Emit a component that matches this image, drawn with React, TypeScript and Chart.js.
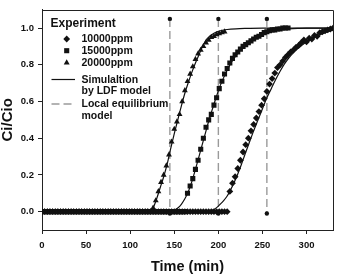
import { useEffect, useRef } from 'react';
import { Chart, registerables } from 'chart.js';
import { drawPoint } from 'chart.js/helpers';

Chart.register(...registerables);

// Sampling instants of the breakthrough measurements (min)
const sampleTimes = [
  0, 3, 6, 9, 12, 15, 18, 21, 24, 27, 30, 33, 36, 39, 42, 45, 48, 51, 54, 57,
  60, 63, 66, 69, 72, 75, 78, 81, 84, 87, 90, 93, 96, 99, 102, 105, 108, 111, 114, 117,
  120, 123, 126, 129, 132, 135, 138, 141, 144, 147, 150, 153, 156, 159, 162, 165, 168, 171, 174, 177,
  180, 183, 186, 189, 192, 195, 198, 201, 204, 207, 210, 213, 216, 219, 222, 225, 228, 231, 234, 237,
  240, 243, 246, 249, 252, 255, 258, 261, 264, 267, 270, 273, 276, 279, 282, 285, 288, 291, 294, 297,
  300, 303, 306, 309, 312, 315, 318, 321, 324, 327, 330,
];

// Measured Ci/Cio, 10000 ppm feed
const exp10000 = [
  0, 0, 0, 0, 0, 0, 0, 0, 0, 0, 0, 0, 0, 0, 0, 0, 0, 0, 0, 0,
  0, 0, 0, 0, 0, 0, 0, 0, 0, 0, 0, 0, 0, 0, 0, 0, 0, 0, 0, 0,
  0, 0, 0, 0, 0, 0, 0, 0, 0, 0, 0, 0, 0, 0, 0, 0, 0, 0, 0, 0,
  0, 0, 0, 0, 0, 0, 0, 0, 0, 0, 0,
  0.11, 0.155, 0.19, 0.235, 0.28, 0.325, 0.365, 0.4, 0.44, 0.475,
  0.51, 0.545, 0.58, 0.615, 0.655, 0.695, 0.725, 0.755, 0.785, 0.8,
  0.82, 0.84, 0.855, 0.87, 0.88, 0.895, 0.905, 0.92, 0.935, 0.925,
  0.945, 0.94, 0.96, 0.955, 0.975, 0.98, 0.985, 0.99, 0.995, 1.0,
];

// Measured Ci/Cio, 15000 ppm feed
const exp15000 = [
  0, 0, 0, 0, 0, 0, 0, 0, 0, 0, 0, 0, 0, 0, 0, 0, 0, 0, 0, 0,
  0, 0, 0, 0, 0, 0, 0, 0, 0, 0, 0, 0, 0, 0, 0, 0, 0, 0, 0, 0,
  0, 0, 0, 0, 0, 0, 0, 0, 0, 0, 0, 0, 0, 0, 0,
  0.1, 0.14, 0.18, 0.23, 0.28, 0.34, 0.4, 0.46, 0.5, 0.53,
  0.58, 0.62, 0.67, 0.71, 0.75, 0.78, 0.81, 0.835, 0.855, 0.87,
  0.885, 0.9, 0.91, 0.92, 0.93, 0.94, 0.95, 0.955, 0.965, 0.975,
  0.98, 0.985, 0.99, 0.99, 0.995, 0.995, 1.0, 1.0, 1.0,
];

// Measured Ci/Cio, 20000 ppm feed
const exp20000 = [
  0, 0, 0, 0, 0, 0, 0, 0, 0, 0, 0, 0, 0, 0, 0, 0, 0, 0, 0, 0,
  0, 0, 0, 0, 0, 0, 0, 0, 0, 0, 0, 0, 0, 0, 0, 0, 0, 0, 0, 0,
  0, 0,
  0.02, 0.06, 0.11, 0.16, 0.2, 0.25, 0.31, 0.38, 0.45, 0.49,
  0.53, 0.6, 0.66, 0.71, 0.75, 0.79, 0.83, 0.86, 0.88, 0.9,
  0.92, 0.935, 0.95, 0.955, 0.965, 0.97, 0.975, 0.98,
];

// LDF model curves
const ldf10000Times = [0, 186, 190, 194, 198, 202, 206, 210, 214, 218, 222, 226, 230, 235, 240, 245, 250, 255, 260, 265, 270, 275, 280, 285, 290, 295, 300, 310, 320, 330];
const ldf10000 = [0, 0, 0.003, 0.01, 0.022, 0.04, 0.06, 0.085, 0.12, 0.16, 0.205, 0.255, 0.31, 0.375, 0.44, 0.5, 0.56, 0.62, 0.67, 0.72, 0.765, 0.805, 0.838, 0.865, 0.888, 0.907, 0.924, 0.952, 0.973, 0.99];

const ldf15000Times = [0, 146, 150, 154, 158, 162, 166, 170, 174, 178, 182, 186, 190, 194, 198, 202, 206, 210, 215, 220, 225, 230, 240, 250, 260, 270, 280, 290, 300, 330];
const ldf15000 = [0, 0, 0.008, 0.02, 0.04, 0.07, 0.11, 0.165, 0.23, 0.3, 0.37, 0.44, 0.51, 0.57, 0.63, 0.685, 0.73, 0.77, 0.815, 0.85, 0.88, 0.905, 0.94, 0.965, 0.98, 0.99, 0.995, 0.998, 1.0, 1.0];

const ldf20000Times = [0, 122, 126, 130, 134, 138, 142, 146, 150, 154, 158, 162, 166, 170, 174, 178, 182, 186, 190, 195, 200, 205, 210, 220, 230, 250, 330];
const ldf20000 = [0, 0, 0.02, 0.07, 0.13, 0.19, 0.26, 0.345, 0.425, 0.5, 0.575, 0.645, 0.705, 0.76, 0.81, 0.855, 0.9, 0.935, 0.955, 0.972, 0.982, 0.988, 0.992, 0.996, 0.998, 1.0, 1.0];

// Local equilibrium model breakthrough times (min)
const equilibriumTimes = [145, 200, 255];
const equilibriumTop = 1.05;
const equilibriumBottom = -0.01;

// Axis ticks
const xTicks = [0, 50, 100, 150, 200, 250, 300];
const yTicks = [0.0, 0.2, 0.4, 0.6, 0.8, 1.0];

const FONT = "'Liberation Sans', Arial, Helvetica, sans-serif";
const INK = '#111';
const DASH_GREY = '#9a9a9a';

const toPoints = (xs: number[], ys: number[]) => ys.map((y, i) => ({ x: xs[i], y }));

const markerSet = (label: string, values: number[], pointStyle: string, radius: number) => ({
  label,
  data: toPoints(sampleTimes, values),
  showLine: false,
  pointStyle,
  pointRadius: radius,
  pointBackgroundColor: INK,
  pointBorderColor: INK,
  pointBorderWidth: 0,
});

const modelSet = (label: string, xs: number[], ys: number[]) => ({
  label,
  data: toPoints(xs, ys),
  showLine: true,
  borderColor: INK,
  borderWidth: 1.2,
  pointRadius: 0,
  cubicInterpolationMode: 'monotone' as const,
});

const equilibriumSets = equilibriumTimes.map((t) => ({
  label: `Local equilibrium ${t}`,
  data: [
    { x: t, y: equilibriumTop },
    { x: t, y: equilibriumBottom },
  ],
  showLine: true,
  borderColor: DASH_GREY,
  borderWidth: 1.4,
  borderDash: [8, 4],
  pointRadius: 2.2,
  pointBackgroundColor: INK,
  pointBorderColor: INK,
  pointBorderWidth: 0,
}));

// Closes the plot box and draws the key in the upper-left corner
const frameAndKey = {
  id: 'frameAndKey',
  afterDraw(chart: Chart) {
    const { ctx, chartArea } = chart;
    const { left, right, top, bottom } = chartArea;
    ctx.save();
    ctx.strokeStyle = '#222';
    ctx.lineWidth = 1;
    ctx.beginPath();
    ctx.moveTo(Math.round(left), Math.round(top) + 0.5);
    ctx.lineTo(Math.round(right) + 0.5, Math.round(top) + 0.5);
    ctx.lineTo(Math.round(right) + 0.5, Math.round(bottom));
    ctx.stroke();

    ctx.fillStyle = INK;
    ctx.textBaseline = 'middle';
    ctx.textAlign = 'left';
    ctx.font = `bold 12px ${FONT}`;
    ctx.fillText('Experiment', 50.5, 23.5);

    ctx.font = `bold 10.5px ${FONT}`;
    const rows: [string, string, number, number][] = [
      ['10000ppm', 'rectRot', 3.4, 39],
      ['15000ppm', 'rect', 3.6, 50.7],
      ['20000ppm', 'triangle', 3.4, 62.7],
    ];
    rows.forEach(([text, style, r, y]) => {
      drawPoint(ctx, { pointStyle: style as any, radius: r, rotation: 0, borderWidth: 0 }, 66.7, y);
      ctx.fillText(text, 81.5, y);
    });

    ctx.strokeStyle = INK;
    ctx.lineWidth = 1.2;
    ctx.beginPath();
    ctx.moveTo(51.5, 79.5);
    ctx.lineTo(75, 79.5);
    ctx.stroke();
    ctx.fillText('Simulaltion', 81.5, 80);
    ctx.fillText('by LDF model', 81.5, 91.5);

    ctx.strokeStyle = DASH_GREY;
    ctx.lineWidth = 1.4;
    ctx.setLineDash([8, 4]);
    ctx.beginPath();
    ctx.moveTo(51.5, 104);
    ctx.lineTo(75, 104);
    ctx.stroke();
    ctx.setLineDash([]);
    ctx.fillText('Local equilibrium', 81.5, 104);
    ctx.fillText('model', 81.5, 116);
    ctx.restore();
  },
};

export default function App() {
  const canvasRef = useRef<HTMLCanvasElement>(null);

  useEffect(() => {
    const canvas = canvasRef.current;
    if (!canvas) return;
    const chart = new Chart(canvas, {
      type: 'scatter',
      data: {
        datasets: [
          markerSet('10000ppm', exp10000, 'rectRot', 3.4),
          markerSet('15000ppm', exp15000, 'rect', 3.6),
          markerSet('20000ppm', exp20000, 'triangle', 3.4),
          modelSet('LDF 10000ppm', ldf10000Times, ldf10000),
          modelSet('LDF 15000ppm', ldf15000Times, ldf15000),
          modelSet('LDF 20000ppm', ldf20000Times, ldf20000),
          ...equilibriumSets,
        ] as any,
      },
      options: {
        animation: false,
        responsive: false,
        devicePixelRatio: 1,
        layout: { padding: { top: 5, right: 3, left: 0, bottom: 0 } },
        plugins: { legend: { display: false }, tooltip: { enabled: false } },
        scales: {
          x: {
            type: 'linear',
            min: 0,
            max: 330,
            afterBuildTicks: (scale: any) => {
              scale.ticks = xTicks.map((value) => ({ value }));
            },
            afterFit: (scale: any) => {
              scale.height = 46;
            },
            ticks: {
              color: INK,
              font: { family: FONT, size: 9.5, weight: 'bold' },
              padding: 6,
              maxRotation: 0,
              callback: (v: any) => String(v),
            },
            grid: { drawOnChartArea: false, drawTicks: true, tickLength: 4, color: '#222' },
            border: { display: true, color: '#222', width: 1 },
            title: {
              display: true,
              text: 'Time (min)',
              color: INK,
              font: { family: FONT, size: 14.5, weight: 'bold', lineHeight: 1.2 },
              padding: 0,
            },
          },
          y: {
            type: 'linear',
            min: -0.1,
            max: 1.1,
            afterBuildTicks: (scale: any) => {
              scale.ticks = yTicks.map((value) => ({ value }));
            },
            afterFit: (scale: any) => {
              scale.width = 42;
            },
            ticks: {
              color: INK,
              font: { family: FONT, size: 9.5, weight: 'bold' },
              padding: 4,
              callback: (v: any) => Number(v).toFixed(1),
            },
            grid: { drawOnChartArea: false, drawTicks: true, tickLength: 4, color: '#222' },
            border: { display: true, color: '#222', width: 1 },
            title: {
              display: true,
              text: 'Ci/Cio',
              color: INK,
              font: { family: FONT, size: 15, weight: 'bold', lineHeight: 1.0 },
              padding: 0,
            },
          },
        },
      } as any,
      plugins: [frameAndKey as any],
    });
    return () => chart.destroy();
  }, []);

  return (
    <div style={{ position: 'absolute', left: 0, top: 0, width: 337, height: 276, background: '#fff' }}>
      <canvas ref={canvasRef} width={337} height={276} style={{ display: 'block', width: 337, height: 276 }} />
    </div>
  );
}
